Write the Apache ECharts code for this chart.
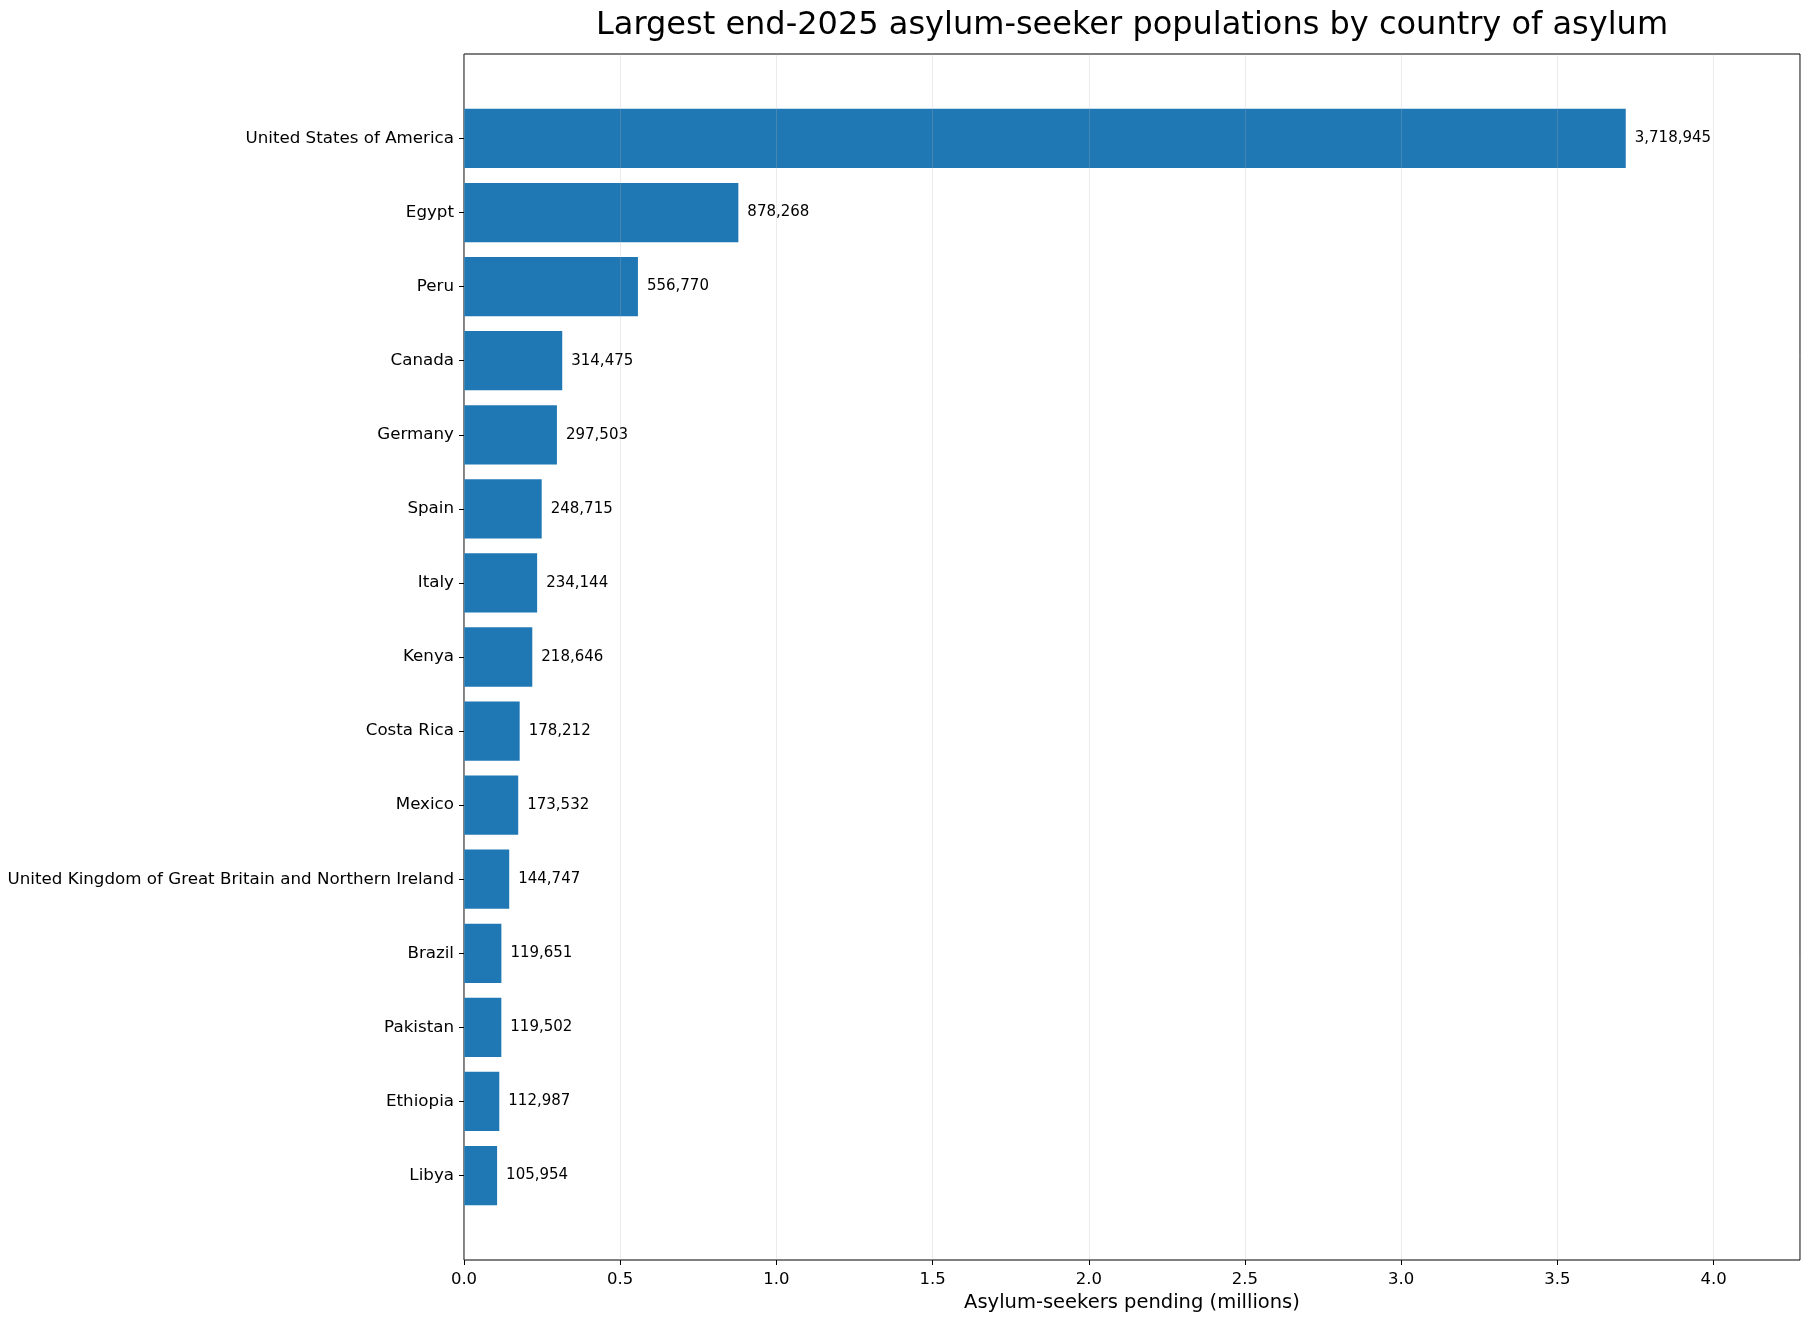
<!DOCTYPE html>
<html>
<head>
<meta charset="utf-8">
<title>Asylum-seekers end-2025</title>
<script src="https://cdn.jsdelivr.net/npm/echarts@6/dist/echarts.min.js"></script>
<style>
  html, body { margin: 0; padding: 0; background: #fff; }
  #chart { width: 1810px; height: 1319px; }
</style>
</head>
<body>
<div id="chart"></div>
<script>
// countries, largest first
var countries = [
	'United States of America', 'Egypt', 'Peru', 'Canada', 'Germany', 'Spain', 'Italy', 'Kenya',
	'Costa Rica', 'Mexico', 'United Kingdom of Great Britain and Northern Ireland', 'Brazil',
	'Pakistan', 'Ethiopia', 'Libya'
];
var seekers = [
	3718945, 878268, 556770, 314475, 297503, 248715, 234144, 218646,
	178212, 173532, 144747, 119651, 119502, 112987, 105954
];
var xTickStep = 500000;

var font = 'DejaVu Sans';
var xMax = Math.max.apply(null, seekers) * 1.15;

// plot box of the figure (px)
var L = 464, R = 10, T = 54, B = 59;
var plotH = 1319 - T - B;
// matplotlib style y margins: 5% of bar extent on each side
var unit = plotH / (14.8 * 1.1);
var pad = (0.74 + 0.4 - 0.5) * unit;

function initChart(elem){
	var myChart = echarts.init(document.getElementById(elem));
	var option = {
		animation: false,
		textStyle: { fontFamily: font },
		title: {
			text: 'Largest end-2025 asylum-seeker populations by country of asylum',
			left: L + (1810 - L - R) / 2 - 5,
			textAlign: 'center',
			top: 5,
			textStyle: { fontFamily: font, fontSize: 32, fontWeight: 'normal', color: '#000' }
		},
		grid: [
			{ left: L, right: R, top: T, bottom: B, show: true, borderColor: '#000', borderWidth: 1, backgroundColor: 'transparent' },
			{ left: L, right: R, top: T + pad, bottom: B + pad }
		],
		xAxis: [
			{
				gridIndex: 0, type: 'value', min: 0, max: xMax, interval: xTickStep, z: 5,
				axisLine: { show: false },
				axisTick: { show: true, length: 5, lineStyle: { color: '#000' } },
				axisLabel: {
					margin: 11, fontSize: 16.5, color: '#000', showMaxLabel: false,
					formatter: function (v) { return (v / 1e6).toFixed(1); }
				},
				splitLine: { show: true, lineStyle: { color: 'rgba(176,176,176,0.25)', width: 1 } },
				name: 'Asylum-seekers pending (millions)',
				nameLocation: 'middle',
				nameGap: 31,
				nameTextStyle: { fontSize: 19.5, color: '#000' }
			},
			{
				gridIndex: 1, type: 'value', min: 0, max: xMax, show: false
			}
		],
		yAxis: [
			{ gridIndex: 0, type: 'value', min: 0, max: 1, show: false },
			{
				gridIndex: 1, type: 'category', data: countries, inverse: true,
				axisLine: { show: false },
				axisTick: { show: true, length: 5, alignWithLabel: true, lineStyle: { color: '#000' } },
				axisLabel: { margin: 10, fontSize: 16.7, color: '#000', padding: [5, 0, 0, 0] }
			}
		],
		series: [
			{
				type: 'bar',
				xAxisIndex: 1,
				yAxisIndex: 1,
				data: seekers,
				barCategoryGap: '20%',
				itemStyle: { color: '#1f77b4' },
				label: {
					show: true, position: 'right', distance: 9,
					fontSize: 15, color: '#000', padding: [5, 0, 0, 0],
					formatter: function (p) { return p.value.toLocaleString('en-US'); }
				}
			}
		]
	};
	myChart.setOption(option);
}

initChart('chart');
</script>
</body>
</html>
